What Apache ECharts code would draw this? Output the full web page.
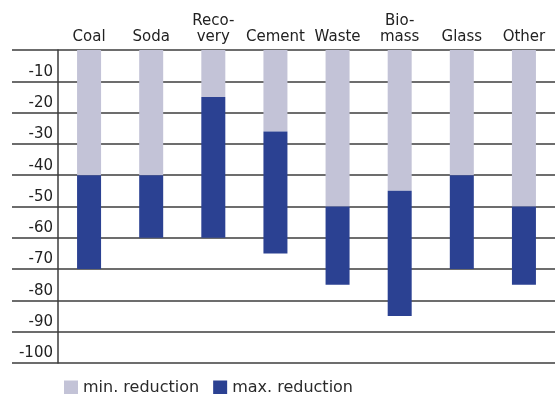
<!DOCTYPE html>
<html>
<head>
<meta charset="utf-8">
<script src="https://cdn.jsdelivr.net/npm/echarts@6/dist/echarts.min.js"></script>
<style>html,body{margin:0;padding:0;background:#fff}#c{width:555px;height:394px}</style>
</head>
<body>
<div id="c"></div>
<script>
var categories = ['Coal', 'Soda', 'Reco-\nvery', 'Cement', 'Waste', 'Bio-\nmass', 'Glass', 'Other'];
var minReduction = [-40, -40, -15, -26, -50, -45, -40, -50];
var maxReduction = [-70, -60, -60, -65, -75, -85, -70, -75];
var seriesNames = ['min. reduction', 'max. reduction'];

var extra = maxReduction.map(function (v, i) { return v - minReduction[i]; });
var lineCol = '#3c3c3c';
var chart = echarts.init(document.getElementById('c'), null, {renderer: 'canvas'});
chart.setOption({
  animation: false,
  backgroundColor: '#fff',
  grid: {left: 58, right: -8, top: 50, bottom: 31, containLabel: false},
  legend: {
    left: 59, top: 375, itemWidth: 14, itemHeight: 15, itemGap: 14, icon: 'rect',
    textStyle: {fontFamily: 'DejaVu Sans', fontSize: 16, color: '#2a2a2a'},
    data: seriesNames
  },
  xAxis: {
    type: 'category', position: 'top', data: categories,
    axisLine: {show: false}, axisTick: {show: false},
    axisLabel: {interval: 0, margin: 5, fontFamily: 'DejaVu Sans', fontSize: 15, lineHeight: 16, color: '#222'}
  },
  yAxis: {
    type: 'value', min: -100, max: 0, interval: 10,
    axisLine: {show: true, lineStyle: {color: lineCol, width: 1.5}},
    axisTick: {show: true, length: 46, lineStyle: {color: lineCol, width: 1.5}},
    splitLine: {show: true, lineStyle: {color: lineCol, width: 1.5}},
    axisLabel: {
      margin: 5, fontFamily: 'DejaVu Sans', fontSize: 15, color: '#222',
      verticalAlign: 'bottom', padding: [0, 0, 2, 0],
      formatter: function (v) { return v === 0 ? '' : String(v); }
    }
  },
  series: [
    {name: seriesNames[0], type: 'bar', stack: 's', barWidth: 24, data: minReduction, itemStyle: {color: '#c3c3d7'}},
    {name: seriesNames[1], type: 'bar', stack: 's', barWidth: 24, data: extra, itemStyle: {color: '#2b4192'}}
  ]
});
</script>
</body>
</html>
